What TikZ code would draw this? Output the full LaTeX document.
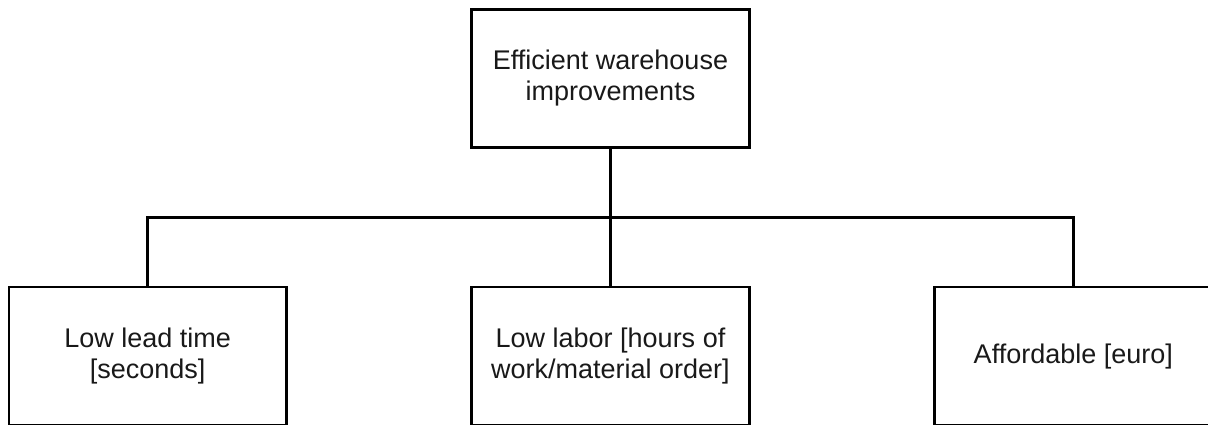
\documentclass[tikz,border=0pt]{standalone}
\usepackage{fontspec}
\setmainfont{Liberation Sans}
\begin{document}
\begin{tikzpicture}[x=1pt,y=-1pt,
  box/.style={draw=black, line width=2.5pt, minimum width=277.6pt,
    minimum height=138.4pt, align=center, inner sep=0pt,
    font=\fontsize{27}{31}\selectfont, text=black!90},
  wire/.style={line width=2.5pt, line join=miter}]
\useasboundingbox (0,0) rectangle (1208,425);
% goal at the top
\node[box] (top) at (610.5,78.5) {Efficient warehouse\\improvements};
% three criteria below it
\node[box] (lead) at (147.7,356.2) {Low lead time\\{}[seconds]};
\node[box] (labor) at (610.5,356.2) {Low labor [hours of\\work/material order]};
\node[box] (afford) at (1073.3,356.2) {Affordable [euro]};
% tree connectors
\coordinate (bus) at (610.5,217.3);
\draw[wire] (top.south) -- (labor.north);
\draw[wire] (lead.north) -- (lead.north |- bus) -- (afford.north |- bus) -- (afford.north);
\end{tikzpicture}
\end{document}
